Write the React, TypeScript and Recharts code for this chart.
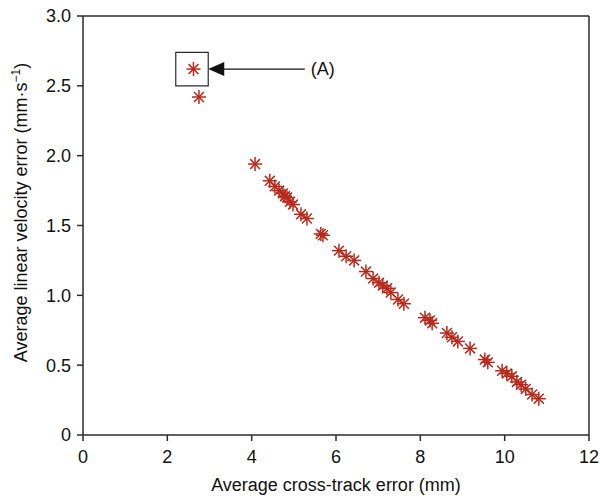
import {
  ScatterChart,
  Scatter,
  XAxis,
  YAxis,
  ReferenceLine,
  ReferenceArea,
  ReferenceDot,
} from "recharts";

// averaged errors per trial
const crossTrack = [
  2.62, 2.75, 4.08, 4.43, 4.55, 4.65, 4.74, 4.79, 4.84, 4.91, 4.98, 5.17, 5.31,
  5.64, 5.69, 6.07, 6.24, 6.43, 6.71, 6.88, 7.02, 7.11, 7.21, 7.3, 7.47, 7.61,
  8.11, 8.23, 8.28, 8.63, 8.75, 8.89, 9.18, 9.53, 9.6, 9.94, 10.05, 10.17,
  10.29, 10.39, 10.5, 10.65, 10.81,
];
const velocityErr = [
  2.62, 2.42, 1.94, 1.82, 1.78, 1.75, 1.73, 1.71, 1.7, 1.67, 1.65, 1.58, 1.55,
  1.44, 1.43, 1.32, 1.28, 1.25, 1.17, 1.12, 1.09, 1.07, 1.05, 1.02, 0.97, 0.94,
  0.84, 0.82, 0.8, 0.73, 0.7, 0.67, 0.62, 0.54, 0.52, 0.46, 0.44, 0.42, 0.38,
  0.36, 0.33, 0.29, 0.26,
];
const xTicks = [0, 2, 4, 6, 8, 10, 12];
const yTicks = [0, 0.5, 1, 1.5, 2, 2.5, 3];

const data = crossTrack.map((x, i) => ({ x, y: velocityErr[i] }));

const RED = "#b8281b";
const INK = "#2b2b2b";
const FONT = "'Liberation Sans', Arial, sans-serif";
const FS = 18;

const Asterisk = (props: any) => {
  const { cx, cy } = props;
  const r = 7;
  const d = r * 0.7071;
  return (
    <g stroke={RED} strokeWidth={1.5}>
      <line x1={cx - r} y1={cy} x2={cx + r} y2={cy} />
      <line x1={cx} y1={cy - r} x2={cx} y2={cy + r} />
      <line x1={cx - d} y1={cy - d} x2={cx + d} y2={cy + d} />
      <line x1={cx - d} y1={cy + d} x2={cx + d} y2={cy - d} />
    </g>
  );
};

const ArrowHead = (props: any) => {
  const { cx, cy } = props;
  return (
    <polygon
      points={`${cx},${cy} ${cx + 16},${cy - 7} ${cx + 16},${cy + 7}`}
      fill="#111"
    />
  );
};

const TagA = (props: any) => (
  <text
    x={props.cx}
    y={props.cy + 6}
    fontSize={FS}
    fontFamily={FONT}
    fill="#111"
  >
    (A)
  </text>
);

const XTitle = (props: any) => {
  const vb = props.viewBox;
  return (
    <text
      x={vb.x + vb.width / 2}
      y={491}
      textAnchor="middle"
      fontSize={FS}
      fontFamily={FONT}
      fill="#111"
    >
      Average cross-track error (mm)
    </text>
  );
};

const YTitle = (props: any) => {
  const vb = props.viewBox;
  const cy = vb.y + vb.height / 2 - 13;
  return (
    <text
      x={27}
      y={cy}
      transform={`rotate(-90 27 ${cy})`}
      textAnchor="middle"
      fontSize={FS}
      fontFamily={FONT}
      fill="#111"
    >
      Average linear velocity error (mm·s
      <tspan dy={-7} fontSize={12}>
        −1
      </tspan>
      <tspan dy={7}>)</tspan>
    </text>
  );
};

const tickStyle = { fontSize: FS, fontFamily: FONT, fill: "#111" };

export default function App() {
  return (
    <div
      style={{
        position: "absolute",
        left: 0,
        top: 0,
        width: 600,
        height: 498,
        background: "#fff",
      }}
    >
      <ScatterChart
        width={600}
        height={498}
        margin={{ top: 16, right: 11, bottom: 23, left: 23 }}
      >
        <XAxis
          type="number"
          dataKey="x"
          domain={[0, 12]}
          ticks={xTicks}
          height={40}
          tickSize={6}
          tickMargin={9}
          tick={tickStyle}
          axisLine={{ stroke: INK, strokeWidth: 1.5 }}
          tickLine={{ stroke: INK, strokeWidth: 1.5 }}
          label={XTitle}
        />
        <YAxis
          type="number"
          dataKey="y"
          domain={[0, 3]}
          ticks={yTicks}
          width={60}
          tickSize={6}
          tickMargin={6}
          tick={tickStyle}
          tickFormatter={(v: number) => (v === 0 ? "0" : v.toFixed(1))}
          axisLine={{ stroke: INK, strokeWidth: 1.5 }}
          tickLine={{ stroke: INK, strokeWidth: 1.5 }}
          label={YTitle}
        />
        <ReferenceLine y={3} stroke={INK} strokeWidth={1.5} />
        <ReferenceLine x={12} stroke={INK} strokeWidth={1.5} />
        <ReferenceArea
          x1={2.2}
          x2={2.97}
          y1={2.5}
          y2={2.74}
          fill="none"
          fillOpacity={0}
          stroke={INK}
          strokeWidth={1.2}
        />
        <ReferenceLine
          segment={[
            { x: 3.2, y: 2.62 },
            { x: 5.26, y: 2.62 },
          ]}
          stroke="#111"
          strokeWidth={1.2}
        />
        <ReferenceDot x={2.97} y={2.62} r={0} shape={ArrowHead} />
        <ReferenceDot x={5.4} y={2.62} r={0} shape={TagA} />
        <Scatter data={data} shape={Asterisk} isAnimationActive={false} />
      </ScatterChart>
    </div>
  );
}
